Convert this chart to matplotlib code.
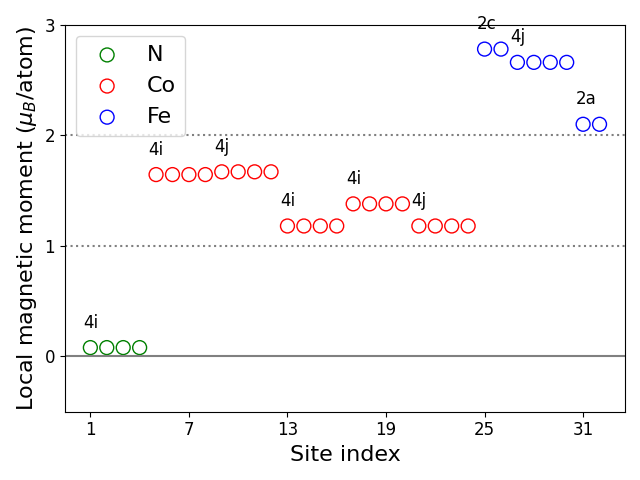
import numpy as np
import matplotlib
matplotlib.use('Agg')
import matplotlib.pyplot as plt

##### Data

sites_N = [1, 2, 3, 4]
mom_N = [0.08, 0.08, 0.08, 0.08]

sites_Co = list(range(5, 25))
mom_Co = [1.645, 1.645, 1.645, 1.645, 1.67, 1.67, 1.67, 1.67,
          1.18, 1.18, 1.18, 1.18, 1.38, 1.38, 1.38, 1.38,
          1.18, 1.18, 1.18, 1.18]

sites_Fe = list(range(25, 33))
mom_Fe = [2.78, 2.78, 2.66, 2.66, 2.66, 2.66, 2.10, 2.10]

# wyckoff labels: first site of each group
wyck_sites = [1, 5, 9, 13, 17, 21, 25, 27, 31]
wyck_labels = ['4i', '4i', '4j', '4i', '4i', '4j', '2c', '4j', '2a']

##### Plot

fig, ax = plt.subplots(figsize=(6.4, 4.8))

ax.scatter(sites_N, mom_N, s=100, facecolors='none', edgecolors='green', label='N')
ax.scatter(sites_Co, mom_Co, s=100, facecolors='none', edgecolors='red', label='Co')
ax.scatter(sites_Fe, mom_Fe, s=100, facecolors='none', edgecolors='blue', label='Fe')

all_sites = sites_N + sites_Co + sites_Fe
all_mom = mom_N + mom_Co + mom_Fe
for s, lab in zip(wyck_sites, wyck_labels):
    m = all_mom[all_sites.index(s)]
    ax.text(s - 0.45, m + 0.18, lab, fontsize=12)

ax.axhline(0, color='gray', linewidth=1.5)
ax.axhline(1, color='gray', linestyle=':', linewidth=1.5)
ax.axhline(2, color='gray', linestyle=':', linewidth=1.5)

ax.set_ylim(-0.5, 3)
ax.set_xticks([1, 7, 13, 19, 25, 31])
ax.set_yticks([0, 1, 2, 3])
ax.tick_params(labelsize=12)
ax.set_xlabel('Site index', fontsize=16)
ax.set_ylabel(r'Local magnetic moment ($\mu_B$/atom)', fontsize=16)
ax.legend(fontsize=16, loc='upper left')

plt.tight_layout()
plt.savefig('out.png', dpi=100)
plt.close()
